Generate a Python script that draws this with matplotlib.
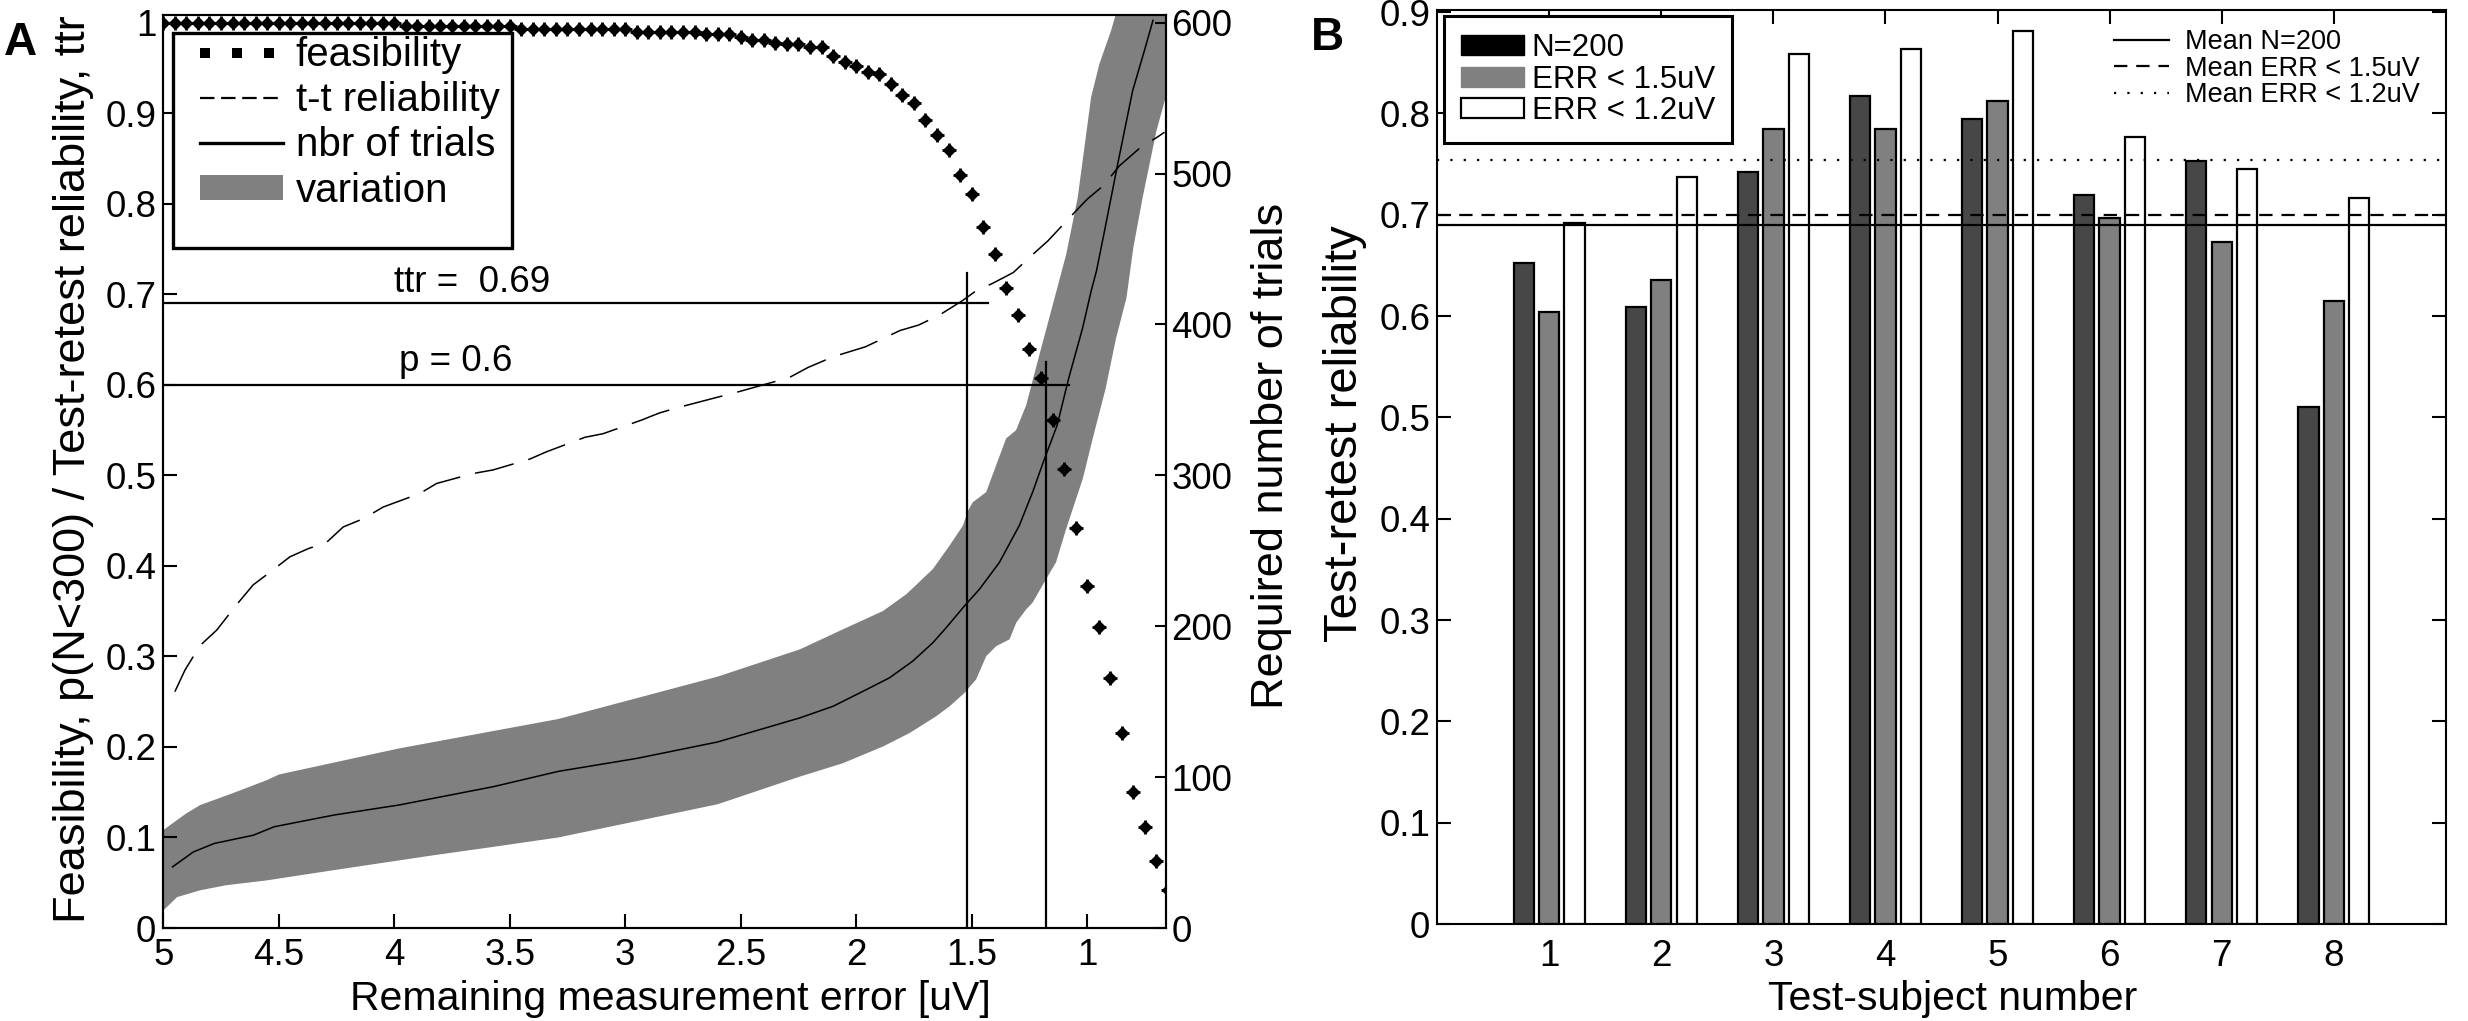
import numpy as np
import matplotlib
matplotlib.use('Agg')
import matplotlib.pyplot as plt
from matplotlib.lines import Line2D
from matplotlib.patches import Patch, Rectangle

plt.rcParams['font.family'] = ['Liberation Sans', 'DejaVu Sans']

# ---------------- panel A data ----------------
# feasibility p(N<300) vs remaining error
feas_err = [5.00, 4.95, 4.90, 4.85, 4.80, 4.75, 4.70, 4.65, 4.60, 4.55, 4.50,
            4.45, 4.40, 4.35, 4.30, 4.25, 4.20, 4.15, 4.10, 4.05, 4.00,
            3.95, 3.90, 3.85, 3.80, 3.75, 3.70, 3.65, 3.60, 3.55, 3.50,
            3.45, 3.40, 3.35, 3.30, 3.25, 3.20, 3.15, 3.10, 3.05, 3.00,
            2.95, 2.90, 2.85, 2.80, 2.75, 2.70, 2.65, 2.60, 2.55, 2.50,
            2.45, 2.40, 2.35, 2.30, 2.25, 2.20, 2.15, 2.10, 2.05, 2.00,
            1.95, 1.90, 1.85, 1.80, 1.75, 1.70, 1.65, 1.60, 1.55, 1.50,
            1.45, 1.40, 1.35, 1.30, 1.25, 1.20, 1.15, 1.10, 1.05, 1.00,
            0.95, 0.90, 0.85, 0.80, 0.75, 0.70, 0.65]
feas_val = [1.0, 1.0, 1.0, 1.0, 1.0, 1.0, 1.0, 1.0, 1.0, 1.0, 1.0,
            1.0, 1.0, 1.0, 1.0, 1.0, 1.0, 1.0, 1.0, 1.0, 1.0,
            0.996, 0.996, 0.996, 0.996, 0.996, 0.996, 0.996, 0.996, 0.996, 0.996,
            0.993, 0.993, 0.993, 0.993, 0.993, 0.993, 0.993, 0.993, 0.993, 0.993,
            0.990, 0.990, 0.990, 0.990, 0.990, 0.990, 0.987, 0.987, 0.987, 0.984,
            0.981, 0.981, 0.978, 0.976, 0.976, 0.973, 0.973, 0.963, 0.957, 0.952,
            0.946, 0.943, 0.932, 0.920, 0.911, 0.893, 0.876, 0.859, 0.832, 0.811,
            0.774, 0.744, 0.707, 0.677, 0.640, 0.607, 0.561, 0.507, 0.442, 0.378,
            0.333, 0.276, 0.215, 0.150, 0.112, 0.074, 0.042]

# test-retest reliability
ttr_err = [4.95, 4.906, 4.841, 4.769, 4.683, 4.611, 4.538, 4.452, 4.373, 4.293,
           4.221, 4.135, 4.048, 3.889, 3.817, 3.659, 3.572, 3.413, 3.341, 3.175,
           3.096, 2.930, 2.851, 2.77, 2.50, 2.29, 2.21, 2.10, 1.96, 1.81,
           1.73, 1.64, 1.54, 1.48, 1.41, 1.32, 1.24, 1.17, 1.06, 1.00,
           0.93, 0.86, 0.77, 0.70, 0.665]
ttr_val = [0.261, 0.285, 0.312, 0.329, 0.357, 0.379, 0.393, 0.410, 0.419, 0.426,
           0.443, 0.452, 0.465, 0.480, 0.491, 0.502, 0.506, 0.518, 0.526, 0.542,
           0.546, 0.561, 0.569, 0.575, 0.593, 0.608, 0.619, 0.631, 0.642, 0.660,
           0.666, 0.677, 0.693, 0.704, 0.712, 0.724, 0.743, 0.759, 0.789, 0.805,
           0.820, 0.842, 0.862, 0.873, 0.879]

# required number of trials (mean) and variation band
nbr_err = [4.96, 4.87, 4.78, 4.61, 4.52, 4.26, 3.98, 3.57, 3.29, 2.95, 2.60,
           2.245, 2.101, 1.956, 1.856, 1.755, 1.668, 1.610, 1.531, 1.466, 1.380,
           1.294, 1.236, 1.19, 1.13, 1.08, 1.02, 0.983, 0.96, 0.925, 0.868,
           0.803, 0.752, 0.715]
nbr_val = [40.5, 50.4, 56.0, 61.5, 67.1, 74.9, 81.5, 93.7, 103.8, 112.4, 123.3,
           139.2, 146.9, 158.0, 165.8, 176.9, 189.1, 199.1, 213.5, 224.6, 242.3,
           266.7, 288.9, 308.8, 333.2, 364.3, 397.5, 422.0, 435.3, 461.9, 506.2,
           555.0, 581.6, 601.6]

band_hi_err = [5.00, 4.90, 4.84, 4.70, 4.55, 4.50, 3.98, 3.29, 2.60, 2.245, 2.058,
               1.884, 1.783, 1.668, 1.596, 1.538, 1.516, 1.495, 1.437, 1.416, 1.351,
               1.308, 1.264, 1.207, 1.149, 1.091, 1.041, 0.983, 0.947, 0.896, 0.868,
               0.66]
band_hi_val = [64.9, 76.0, 81.5, 89.3, 98.1, 101.7, 119.0, 138.5, 166.6, 184.6, 197.9,
               210.1, 221.2, 237.9, 253.4, 266.7, 276.6, 282.2, 288.9, 297.7, 324.4,
               329.9, 346.5, 379.8, 413.0, 446.3, 484.0, 550.6, 572.7, 595.0, 610.0,
               610.0]
band_lo_err = [5.00, 4.94, 4.84, 4.73, 4.55, 4.41, 4.12, 3.83, 3.57, 3.29, 2.60,
               2.245, 2.058, 1.884, 1.769, 1.654, 1.596, 1.531, 1.481, 1.437, 1.394,
               1.336, 1.307, 1.264, 1.236, 1.178, 1.135, 1.091, 1.048, 1.019, 0.976,
               0.92, 0.875, 0.83, 0.80, 0.76, 0.70, 0.66]
band_lo_val = [11.6, 20.5, 25.0, 28.3, 31.6, 34.9, 41.6, 48.2, 53.8, 60.0, 82.0,
               100.3, 109.2, 120.3, 129.2, 140.3, 146.9, 155.8, 164.7, 180.2, 186.8,
               191.3, 202.4, 211.2, 215.7, 231.2, 242.3, 264.5, 284.4, 297.7, 324.4,
               357.6, 390.9, 417.5, 451.0, 484.0, 528.4, 550.6]

# reference lines
ttr_level, ttr_at, ttr_end, ttr_top = 0.69, 1.52, 1.43, 0.723
p_level, p_at, p_end, p_top = 0.60, 1.18, 1.08, 0.625

xticks_A = [5, 4.5, 4, 3.5, 3, 2.5, 2, 1.5, 1]
xticklabels_A = ['5', '4.5', '4', '3.5', '3', '2.5', '2', '1.5', '1']
yticks_A = [0, 0.1, 0.2, 0.3, 0.4, 0.5, 0.6, 0.7, 0.8, 0.9, 1.0]
yticklabels_A = ['0', '0.1', '0.2', '0.3', '0.4', '0.5', '0.6', '0.7', '0.8', '0.9', '1']
y2ticks_A = [0, 100, 200, 300, 400, 500, 600]

# ---------------- panel B data ----------------
subjects = [1, 2, 3, 4, 5, 6, 7, 8]
rel_n200 = [0.652, 0.609, 0.742, 0.817, 0.794, 0.719, 0.753, 0.510]
rel_err15 = [0.604, 0.636, 0.785, 0.785, 0.812, 0.697, 0.673, 0.615]
rel_err12 = [0.692, 0.737, 0.859, 0.864, 0.881, 0.777, 0.745, 0.716]
mean_n200, mean_err15, mean_err12 = 0.6894, 0.700, 0.754
yticks_B = [0, 0.1, 0.2, 0.3, 0.4, 0.5, 0.6, 0.7, 0.8, 0.9]
yticklabels_B = ['0', '0.1', '0.2', '0.3', '0.4', '0.5', '0.6', '0.7', '0.8', '0.9']

W, H = 2468, 1021
fig = plt.figure(figsize=(W / 100, H / 100), dpi=100)
fig.patch.set_facecolor('white')

TICK = 26.5
LAB_V = 32.5
LAB_H = 29.5

# ================= panel A =================
axA = fig.add_axes([163.3 / W, 1 - 928 / H, (1165.7 - 163.3) / W, (928 - 15) / H])
axA2 = axA.twinx()
axA.set_zorder(axA2.get_zorder() + 1)
axA.patch.set_visible(False)

band_x = np.concatenate([band_hi_err, band_lo_err[::-1]])
band_y = np.concatenate([band_hi_val, band_lo_val[::-1]])
axA2.fill(band_x, band_y, color='#808080', lw=0, zorder=1)
axA2.plot(nbr_err, nbr_val, color='k', lw=1.1, zorder=2)

axA.plot(ttr_err, ttr_val, color='k', lw=1.1, ls=(0, (26, 10)), zorder=3)
axA.plot(feas_err, feas_val, ls='none', marker='D', ms=6, color='k', zorder=4)
axA.plot(feas_err, feas_val, ls='none', marker='+', ms=10, mew=2, color='k', zorder=4)

axA.plot([5, ttr_end], [ttr_level, ttr_level], color='k', lw=1.6, zorder=5)
axA.plot([ttr_at, ttr_at], [0, ttr_top], color='k', lw=1.6, zorder=5)
axA.plot([5, p_end], [p_level, p_level], color='k', lw=1.6, zorder=5)
axA.plot([p_at, p_at], [0, p_top], color='k', lw=1.6, zorder=5)
axA.text(4.0, 0.702, 'ttr =  %.2f' % ttr_level, fontsize=TICK, ha='left', va='baseline')
axA.text(3.98, 0.615, 'p = %.1f' % p_level, fontsize=TICK, ha='left', va='baseline')

axA.set_xlim(5, 0.66)
axA.set_ylim(0, 1.0085)
axA2.set_ylim(0, 605.1)
axA.set_xticks(xticks_A)
axA.set_xticklabels(xticklabels_A)
axA.set_yticks(yticks_A)
axA.set_yticklabels(yticklabels_A)
axA2.set_yticks(y2ticks_A)
axA.tick_params(axis='both', direction='in', length=10, width=1.5, labelsize=TICK)
axA.tick_params(axis='x', pad=7)
axA.tick_params(axis='y', pad=5)
axA2.tick_params(axis='y', direction='in', length=8, width=1.5, labelsize=TICK, pad=4)
for ax in (axA, axA2):
    for s in ax.spines.values():
        s.set_linewidth(1.5)

hA = [Line2D([], [], color='k', lw=7.2, ls=(0, (1, 2.2)), dash_capstyle='butt'),
      Line2D([], [], color='k', lw=1.6, ls=(0, (6.5, 3)), dash_capstyle='butt'),
      Line2D([], [], color='k', lw=2.4),
      Patch(facecolor='#808080', edgecolor='none')]
legA = axA.legend(hA, ['feasibility', 't-t reliability', 'nbr of trials', 'variation'],
                  loc='upper left', bbox_to_anchor=((200 - 163.3) / 1002.4, (928 - 36) / 913),
                  borderaxespad=0, borderpad=0, frameon=False, fontsize=29,
                  handlelength=2.05, handletextpad=0.33, labelspacing=0.18,
                  handleheight=0.6)
legA.set_zorder(10)
axA.add_patch(Rectangle(((173 - 163.3) / 1002.4, (928 - 248) / 913),
                        (512 - 173) / 1002.4, (248 - 33) / 913,
                        transform=axA.transAxes, facecolor='white', edgecolor='k',
                        lw=2.4, zorder=9))

fig.text(74 / W, 1 - 469 / H, 'Feasibility, p(N<300) / Test-retest reliability, ttr',
         rotation=90, ha='center', va='center', fontsize=LAB_V)
fig.text(1271 / W, 1 - 456 / H, 'Required number of trials',
         rotation=90, ha='center', va='center', fontsize=LAB_V)
fig.text(670 / W, 11 / H, 'Remaining measurement error [uV]',
         ha='center', va='baseline', fontsize=LAB_H)
fig.text(4 / W, 1 - 55 / H, 'A', fontsize=33, fontweight='bold', ha='left', va='baseline')

# ================= panel B =================
axB = fig.add_axes([1437.3 / W, 1 - 924 / H, (2445.7 - 1437.3) / W, (924 - 10) / H])
x = np.array(subjects)
bw = 0.18
axB.bar(x - 0.225, rel_n200, bw, color='#474747', edgecolor='k', lw=1.6, zorder=2)
axB.bar(x, rel_err15, bw, color='#808080', edgecolor='k', lw=1.6, zorder=2)
axB.bar(x + 0.225, rel_err12, bw, color='white', edgecolor='k', lw=1.6, zorder=2)
axB.axhline(mean_n200, color='k', lw=1.6, zorder=3)
axB.axhline(mean_err15, color='k', lw=1.6, ls=(0, (6, 4)), zorder=3)
axB.axhline(mean_err12, color='k', lw=1.6, ls=(0, (1, 5)), zorder=3)

axB.set_xlim(0, 9)
axB.set_ylim(0, 0.902)
axB.set_xticks(subjects)
axB.set_yticks(yticks_B)
axB.set_yticklabels(yticklabels_B)
axB.tick_params(axis='both', direction='in', length=10, width=1.5, labelsize=TICK,
                top=True, right=True)
axB.tick_params(axis='x', pad=11)
axB.tick_params(axis='y', pad=5)
for s in axB.spines.values():
    s.set_linewidth(1.5)

hB1 = [Patch(facecolor='black', edgecolor='k'),
       Patch(facecolor='#808080', edgecolor='#808080'),
       Patch(facecolor='white', edgecolor='k', lw=1.6)]
legB1 = axB.legend(hB1, ['N=200', 'ERR < 1.5uV', 'ERR < 1.2uV'], loc='upper left',
                   bbox_to_anchor=((1444 - 1437.3) / 1008.4, (924 - 16) / 914),
                   borderaxespad=0, borderpad=0.55, fontsize=22.5, handlelength=2.0,
                   handletextpad=0.26, labelspacing=0.05, handleheight=0.62,
                   fancybox=False, framealpha=1, edgecolor='k')
legB1.get_frame().set_linewidth(2.2)
axB.add_artist(legB1)
hB2 = [Line2D([], [], color='k', lw=1.6),
       Line2D([], [], color='k', lw=1.6, ls=(0, (6, 4))),
       Line2D([], [], color='k', lw=1.6, ls=(0, (1, 5)))]
axB.legend(hB2, ['Mean N=200', 'Mean ERR < 1.5uV', 'Mean ERR < 1.2uV'], loc='upper left',
           bbox_to_anchor=((2113.7 - 1437.3) / 1008.4, (924 - 29) / 914),
           borderaxespad=0, borderpad=0, frameon=False, fontsize=19.5,
           handlelength=2.05, handletextpad=0.6, labelspacing=0.02)

fig.text(1345 / W, 1 - 434 / H, 'Test-retest reliability',
         rotation=90, ha='center', va='center', fontsize=34)
fig.text(1953 / W, 11 / H, 'Test-subject number', ha='center', va='baseline', fontsize=LAB_H)
fig.text(1311 / W, 1 - 50 / H, 'B', fontsize=33, fontweight='bold', ha='left', va='baseline')

fig.savefig('out.png', dpi=100, facecolor='white')
